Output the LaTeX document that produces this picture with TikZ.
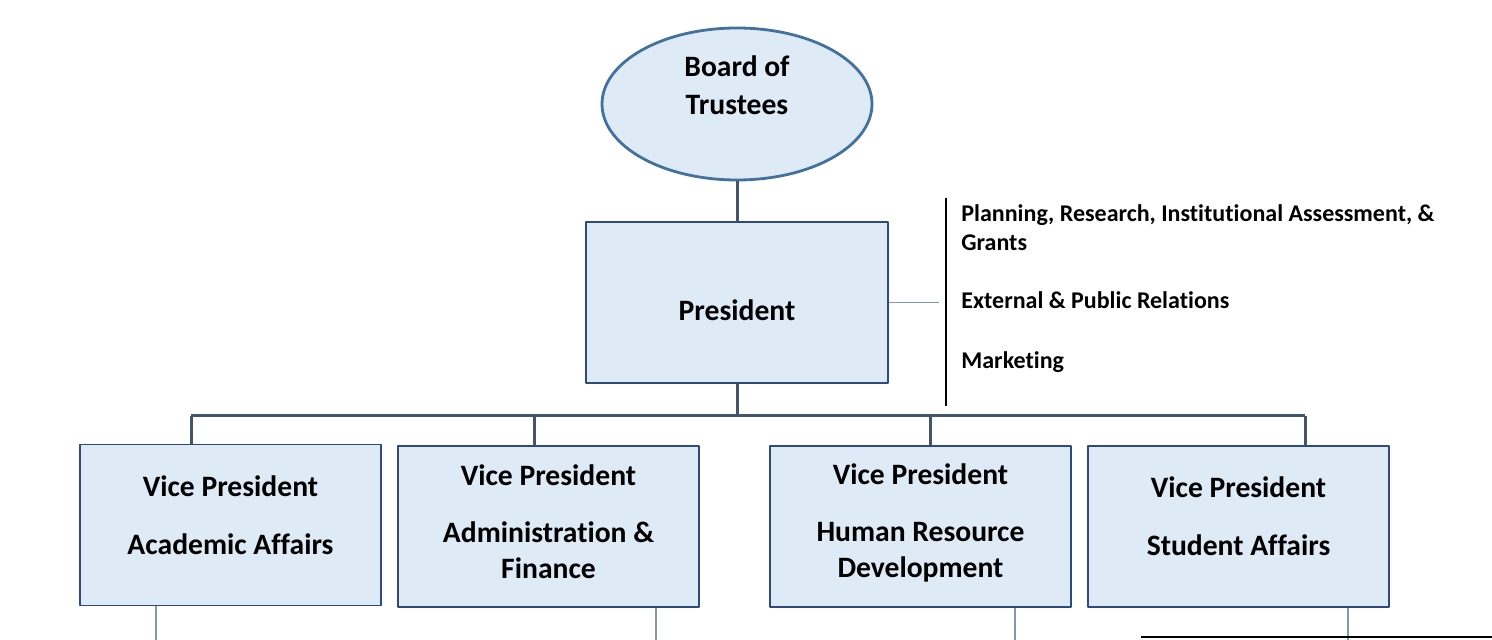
\documentclass[tikz,border=0pt]{standalone}
\usepackage{fontspec}
\setmainfont{Carlito}[Ligatures=NoCommon]
\usetikzlibrary{shapes.geometric}
\definecolor{boxfill}{RGB}{222,234,246}
\definecolor{boxline}{RGB}{47,75,124}
\definecolor{ovalline}{RGB}{65,113,156}
\definecolor{trunkcol}{RGB}{68,84,106}
\definecolor{stubcol}{RGB}{132,151,176}
\begin{document}
\begin{tikzpicture}[x=0.5pt,y=-0.5pt,line join=round,
	vpbox/.style={draw=boxline,fill=boxfill,line width=0.9pt,minimum width=150.5pt,minimum height=80.5pt,inner sep=0pt,align=center,font=\bfseries\fontsize{14.8}{18}\selectfont},
	oval/.style={ellipse,draw=ovalline,fill=boxfill,line width=1.4pt,minimum width=135pt,minimum height=76pt,inner sep=0pt,align=center,font=\bfseries\fontsize{14.8}{19}\selectfont},
	side/.style={anchor=west,inner sep=0pt,align=left,font=\bfseries\fontsize{12}{14.5}\selectfont},
	trunk/.style={draw=trunkcol,line width=1.5pt},
	stub/.style={draw=stubcol,line width=0.8pt}]
	\useasboundingbox (0,0) rectangle (1492,640);
	%nodes
	\node[oval](bot) at (737,104) {Board of\\Trustees\\~};
	\node[vpbox,minimum width=151pt,text height=18pt](pres) at (737,302.5) {President};
	\node[vpbox](aa) at (230.5,525) {Vice President\\[11pt]Academic Affairs\\[-8pt]~};
	\node[vpbox,text depth=5pt](af) at (548.5,526.5) {Vice President\\[10.5pt]Administration \&\\Finance};
	\node[vpbox,text depth=6pt](hr) at (920.5,526.5) {Vice President\\[10.5pt]Human Resource\\Development};
	\node[vpbox](sa) at (1238.5,526.5) {Vice President\\[11pt]Student Affairs\\[-8pt]~};
	\node[side](plan) at (961,227.5) {Planning, Research, Institutional Assessment, \&\\Grants};
	\node[side](ext) at (961,300) {External \& Public Relations};
	\node[side](mkt) at (961,362) {Marketing};
	%connectors
	\coordinate (bus) at (737,416);
	\draw[trunk](bot.south)--(pres.north);
	\draw[trunk](pres.south)--(bus);
	\draw[trunk](191,416)coordinate(d1)--(1305,416)coordinate(d4);
	\foreach \v/\x in {aa/191,af/534,hr/930,sa/1305}
	\draw[trunk](\x,416)--(\v.north -| \x,0);
	\draw[stub](pres.east)--++(50,0)coordinate(tip);
	\draw[black,line width=1pt](946,198)--(946,406);
	\foreach \v/\x in {aa/156,af/656,hr/1015,sa/1348}
	\draw[stub](\v.south -| \x,0)--(\x,640);
	\draw[black,line width=1.2pt](1141,637)--(1492,637);
\end{tikzpicture}
\end{document}
